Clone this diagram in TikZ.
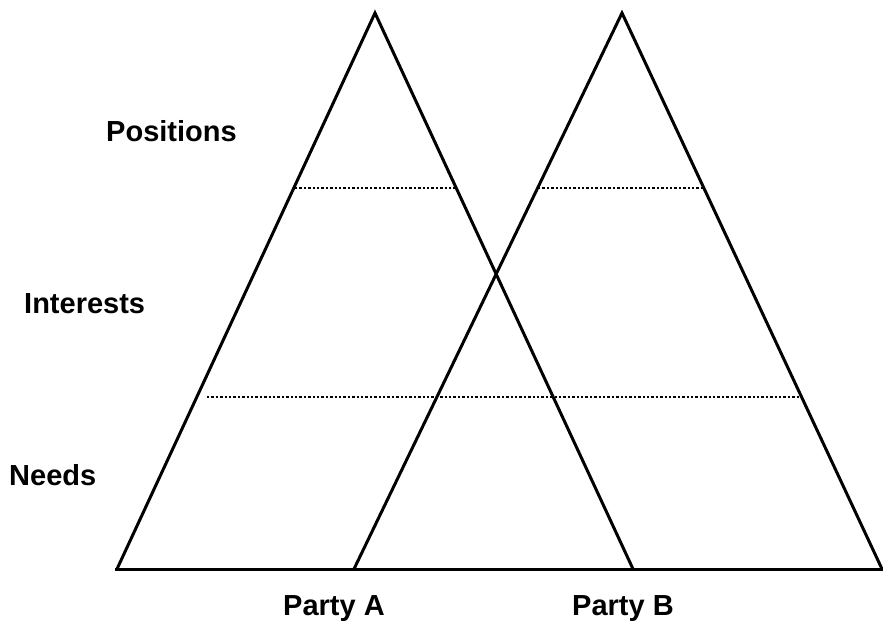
\documentclass[tikz,border=0pt]{standalone}
\usepackage{fontspec}
\setmainfont{Liberation Sans}
\begin{document}
\begin{tikzpicture}[x=1pt,y=-1pt,
  edge/.style={line width=3pt,line join=miter},
  level/.style={line width=2.4pt,dash pattern=on 2.4pt off 2pt},
  lbl/.style={anchor=base west,inner sep=0pt,font=\fontsize{29}{33}\selectfont\bfseries}]
\useasboundingbox (0,0) rectangle (883,626);
\coordinate (Atop) at (375,13);
\coordinate (Al) at (117,569);
\coordinate (Ar) at (633,569);
\coordinate (Btop) at (622,13);
\coordinate (Bl) at (354,569);
\coordinate (Br) at (882,569);
\coordinate (b0) at (115,569);
\coordinate (b1) at (885,569);
\draw[edge] (Al) -- (Atop) -- (Ar);
\draw[edge] (Bl) -- (Btop) -- (Br);
\draw[edge] (b0) -- (b1);
\coordinate (p1) at (295,188);
\coordinate (p2) at (455,188);
\coordinate (p3) at (538,188);
\coordinate (p4) at (705,188);
\coordinate (q1) at (207,397);
\coordinate (q2) at (803,397);
\draw[level] (p1) -- (p2);
\draw[level] (p3) -- (p4);
\draw[level] (q1) -- (q2);
\node[lbl] (pos) at (106,141) {Positions};
\node[lbl] (int) at (24,313) {Interests};
\node[lbl] (nee) at (9,485) {Needs};
\node[lbl] (pa) at (283,615) {Party A};
\node[lbl] (pb) at (572,615) {Party B};
\end{tikzpicture}
\end{document}
